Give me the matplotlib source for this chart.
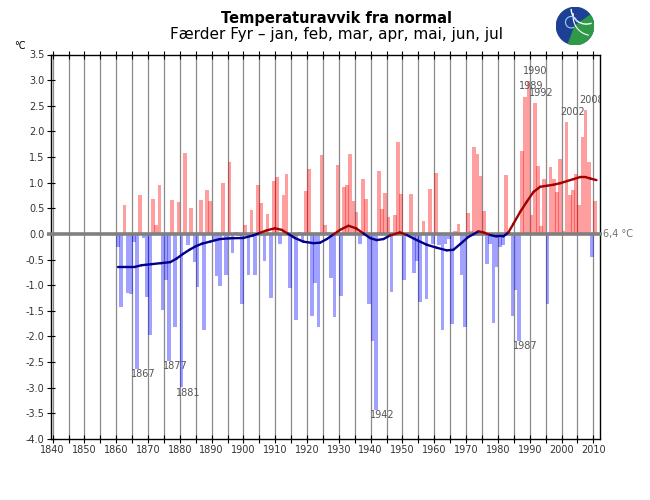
import numpy as np
import matplotlib
matplotlib.use('Agg')
from matplotlib import pyplot as plt
from matplotlib.collections import LineCollection
from matplotlib.patches import Circle, Wedge, Arc

# yearly deviation from normal (6,4 C), jan-jul, Faerder Fyr
years = list(range(1861, 2012))
anomaly = [
    -0.26, -1.43, 0.56, -1.15, -1.18, -0.16, -2.63, 0.75, -0.08, -1.23,   # 1861-1870
    -1.98, 0.69, 0.17, 0.96, -1.49, -0.89, -2.47, 0.67, -1.82, 0.63,      # 1871-1880
    -2.99, 1.58, -0.22, 0.50, -0.55, -1.04, 0.67, -1.87, 0.85, 0.64,      # 1881-1890
    -0.13, -0.83, -1.02, 0.99, -0.80, 1.40, -0.38, 0.03, -0.05, -1.37,    # 1891-1900
    0.18, -0.80, 0.47, -0.80, 0.96, 0.60, -0.53, 0.39, -1.25, 1.04,       # 1901-1910
    1.12, -0.20, 0.75, 1.16, -1.05, -0.05, -1.68, 0.03, -0.13, 0.83,      # 1911-1920
    1.26, -1.61, -0.96, -1.82, 1.53, 0.17, 0.03, -0.85, -1.62, 1.35,      # 1921-1930
    -1.21, 0.92, 0.96, 1.56, 0.65, 0.42, -0.20, 1.08, 0.69, -1.37,        # 1931-1940
    -2.09, -3.43, 1.22, 0.49, 0.79, 0.34, -1.14, 0.37, 1.80, 0.77,        # 1941-1950
    -0.90, 0.03, 0.77, -0.76, -0.53, -1.33, 0.26, -1.27, 0.87, -0.19,     # 1951-1960
    1.19, -0.22, -1.87, -0.19, -0.10, -1.75, 0.05, 0.20, -0.80, -1.82,    # 1961-1970
    0.40, 0.05, 1.70, 1.56, 1.13, 0.44, -0.58, -0.20, -1.74, -0.64,       # 1971-1980
    -0.26, -0.22, 1.14, 0.03, -1.61, -1.10, -2.08, 1.62, 2.68, 2.98,      # 1981-1990
    0.36, 2.55, 1.32, 0.15, 1.08, -1.37, 1.30, 1.08, 0.82, 1.47,          # 1991-2000
    0.06, 2.18, 0.75, 0.85, 1.17, 0.56, 1.90, 2.41, 1.40, -0.45,          # 2001-2010
    0.65,                                                                 # 2011
]

# smoothed curve
smooth_x = [1860.6, 1863, 1866, 1868, 1871, 1874, 1877, 1879, 1881, 1883,
            1885, 1887, 1889.5, 1892.6, 1895.7, 1899.9, 1903, 1905.2, 1907.3, 1909.9,
            1912, 1914.1, 1916.2, 1918.8, 1922, 1924.1, 1926.2, 1928.3, 1930.4, 1933,
            1935.4, 1937.7, 1939.8, 1941.9, 1944, 1946.1, 1949.2, 1951.3, 1954.5, 1957.6,
            1960.8, 1963.9, 1966, 1968.1, 1970.7, 1973.9, 1975.4, 1977.5, 1979.6, 1981.7,
            1983.3, 1984.9, 1987, 1989.1, 1991.2, 1993.3, 1995.4, 1997.5, 1999.6, 2001.7,
            2003.8, 2005.9, 2007.5, 2009.1, 2011]
smooth_y = [-0.64, -0.64, -0.64, -0.61, -0.59, -0.57, -0.55, -0.48, -0.39, -0.31,
            -0.24, -0.19, -0.15, -0.10, -0.085, -0.08, -0.03, 0.02, 0.07, 0.11,
            0.08, 0.0, -0.08, -0.15, -0.18, -0.17, -0.10, -0.01, 0.08, 0.16,
            0.11, 0.01, -0.08, -0.12, -0.10, -0.03, 0.03, -0.02, -0.12, -0.21,
            -0.27, -0.32, -0.31, -0.20, -0.06, 0.05, 0.03, -0.02, -0.05, -0.05,
            0.03, 0.20, 0.43, 0.63, 0.82, 0.92, 0.94, 0.96, 0.99, 1.03,
            1.07, 1.11, 1.11, 1.08, 1.05]

labelled_years = [1867, 1877, 1881, 1942, 1987, 1989, 1990, 1992, 2002, 2008]

yticks = np.arange(-4.0, 3.51, 0.5)
xticks = list(range(1840, 2011, 10))

years = np.array(years)
anomaly = np.array(anomaly)

fig = plt.figure(figsize=(6.5, 5), dpi=100)
ax = fig.add_axes([50.7/650, 1 - 439/500, (600 - 50.7)/650, (439 - 54.5)/500])

# vertical grid every 5 years
for g in range(1840, 2011, 5):
    ax.axvline(g, color='#8a8a8a', lw=0.9, zorder=0)

cols = [(1, 0, 0, 0.38) if v >= 0 else (0, 0, 1, 0.37) for v in anomaly]
ax.bar(years - 1, anomaly, width=1.15, align='edge', color=cols, linewidth=0, zorder=2)

# zero line ( = 6,4 C normal)
ax.plot([1838.2, 2012.7], [0, 0], color='#808080', lw=2.6, zorder=3, clip_on=False,
        solid_capstyle='butt')
ax.text(2013.2, 0, '6,4 \u00b0C', color='#707070', fontsize=7, va='center', ha='left',
        clip_on=False)

# smoothed curve, blue below 0 and red above
pts = np.column_stack([smooth_x, smooth_y])
segs = np.stack([pts[:-1], pts[1:]], axis=1)
mid = (np.array(smooth_y[:-1]) + np.array(smooth_y[1:])) / 2
seg_cols = ['#a00000' if m >= 0 else '#00008b' for m in mid]
lc = LineCollection(segs, colors=seg_cols, linewidths=1.7, zorder=4, capstyle='round')
ax.add_collection(lc)

# year labels at the extreme bars (clipped at the right frame like the original)
for y in labelled_years:
    v = anomaly[years == y][0]
    off = 0.205 if v >= 0 else -0.107
    t = ax.text(y + 1.6, v + off, str(y), ha='center', va='center',
                fontsize=7, color='#555555', zorder=5, clip_on=True)
    t.set_clip_box(ax.bbox)

ax.set_xlim(1839.4, 2012.1)
ax.set_ylim(-4.0, 3.5)
ax.set_yticks(yticks)
ax.set_yticklabels(['%.1f' % t for t in yticks])
ax.set_xticks(xticks)
ax.set_xticks(list(range(1845, 2011, 10)), minor=True)
ax.tick_params(axis='both', which='both', direction='inout', length=6, width=0.8,
               labelsize=7, colors='black', pad=1.5)
ax.tick_params(axis='y', labelcolor='#333333')
ax.tick_params(axis='x', labelcolor='#333333', pad=1)
ax.tick_params(top=True, which='both', labeltop=False)
for s in ax.spines.values():
    s.set_linewidth(1.0)
    s.set_color('black')

fig.text(0.517, 0.963, 'Temperaturavvik fra normal', ha='center', va='center',
         fontsize=10.5, fontweight='bold')
fig.text(0.517, 0.931, 'F\u00e6rder Fyr \u2013 jan, feb, mar, apr, mai, jun, jul',
         ha='center', va='center', fontsize=11)
fig.text(20/650, 1 - 46/500, '\u00b0C', ha='center', va='center', fontsize=7)

# logo
lax = fig.add_axes([556/650, 1 - 45/500, 38/650, 38/500])
lax.set_xlim(-1, 1)
lax.set_ylim(-1, 1)
lax.set_aspect('equal')
lax.axis('off')
lax.add_patch(Circle((0, 0), 0.98, color='#1d3f94'))
lax.add_patch(Wedge((0, 0), 0.98, -110, 35, color='#2e9a48'))
lax.add_patch(Arc((0.6, 0.9), 1.6, 1.6, theta1=180, theta2=290, color='white', lw=1))
lax.add_patch(Arc((0.9, 0.5), 2.0, 2.0, theta1=170, theta2=260, color='white', lw=0.8))
lax.add_patch(Arc((-0.2, 0.2), 0.6, 0.6, theta1=0, theta2=300, color='#9fd0ff', lw=0.8))

fig.savefig('out.png', dpi=100)
